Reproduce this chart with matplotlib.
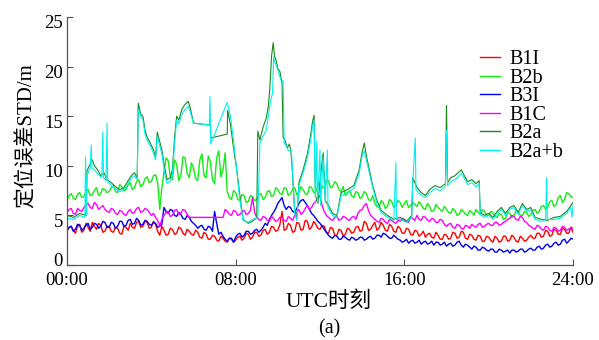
import numpy as np
import matplotlib
matplotlib.use("Agg")
import matplotlib.pyplot as plt
import matplotlib.transforms as mtransforms

# ---------------- data ----------------
# dense series: samples on the even 0.2 h grid plus samples half-way between
t_grid = np.round(np.arange(0, 24.0001, 0.2), 2)
t_mid = np.round(np.arange(0.1, 24.0, 0.2), 2)

b1i = [3.4, 3.9, 3.2, 4.1, 3.5, 3.8, 4.3, 3.6, 4.0, 3.4,
       3.9, 3.3, 3.7, 3.1, 3.8, 4.2, 3.7, 4.4, 3.9, 4.3,
       3.8, 4.1, 3.0, 3.5, 3.1, 3.6, 3.2, 3.7, 3.0, 3.4,
       3.0, 3.3, 2.7, 3.1, 2.6, 2.9, 2.4, 2.7, 2.3, 2.6,
       2.5, 2.9, 2.7, 3.1, 2.8, 3.3, 3.0, 3.6, 3.3, 3.8,
       3.5, 5.4, 3.6, 4.0, 3.4, 4.2, 3.6, 4.4, 3.8, 4.1,
       3.6, 3.9, 3.2, 3.7, 3.0, 3.5, 3.1, 3.6, 3.3, 3.9,
       3.5, 4.2, 3.6, 4.3, 3.7, 4.0, 3.4, 3.9, 3.3, 3.7,
       3.2, 3.6, 3.0, 3.4, 3.1, 2.8, 3.2, 2.7, 3.0, 2.6,
       3.0, 2.7, 3.2, 2.8, 3.3, 2.6, 3.0, 2.5, 2.9, 2.4,
       2.8, 2.3, 2.7, 2.4, 2.9, 2.5, 2.8, 2.3, 2.7, 2.5,
       3.0, 2.7, 3.2, 2.9, 3.4, 3.0, 3.5, 3.1, 3.6, 3.2,
       3.3]
b1i_mid = [3.8, 3.5, 3.9, 3.3, 4.2, 3.4, 3.9, 4.2, 3.3, 3.9,
           3.4, 3.8, 3.2, 3.9, 3.5, 3.8, 4.3, 3.8, 4.4, 3.7,
           4.4, 3.4, 3.9, 3.0, 3.7, 3.1, 3.8, 3.2, 3.6, 3.1,
           3.5, 2.8, 3.3, 2.6, 3.0, 2.5, 2.9, 2.4, 2.7, 2.3,
           2.8, 2.5, 3.2, 2.6, 3.3, 2.9, 3.5, 3.1, 3.9, 3.4,
           4.1, 3.5, 4.2, 3.3, 4.3, 3.5, 4.5, 3.6, 4.4, 3.7,
           4.0, 3.3, 3.8, 3.0, 3.6, 2.9, 3.7, 3.2, 3.8, 3.4,
           4.4, 3.5, 4.0, 3.5, 4.3, 3.5, 4.1, 3.4, 3.9, 3.2,
           3.7, 3.1, 3.5, 2.9, 3.4, 3.1, 2.8, 3.3, 2.6, 3.1,
           2.6, 3.3, 2.7, 3.4, 2.7, 3.1, 2.6, 3.0, 2.4, 2.9,
           2.5, 2.9, 2.3, 2.9, 2.4, 3.0, 2.4, 2.9, 2.4, 2.8,
           2.7, 3.2, 2.8, 3.5, 2.9, 3.6, 3.1, 3.7, 3.2, 3.8]

b3i = [3.5, 3.9, 3.6, 4.0, 3.7, 4.2, 3.8, 4.1, 3.9, 4.3,
       3.8, 4.2, 3.9, 4.4, 4.0, 4.6, 4.2, 4.5, 4.1, 4.4,
       4.0, 4.2, 3.9, 5.8, 5.2, 5.5, 4.9, 5.1, 4.6, 4.8,
       4.2, 3.7, 4.0, 3.5, 3.8, 5.4, 3.1, 2.9, 2.4, 2.7,
       2.8, 3.2, 3.0, 3.4, 3.2, 3.6, 3.5, 4.2, 4.6, 5.3,
       6.2, 6.8, 5.6, 5.8, 5.3, 6.2, 6.6, 6.0, 5.2, 4.7,
       4.2, 3.6, 3.0, 2.7, 2.9, 2.6, 2.8, 2.5, 2.7, 2.6,
       2.8, 2.6, 2.9, 2.7, 3.0, 3.2, 2.9, 2.7, 2.8, 2.5,
       2.4, 2.2, 2.5, 2.3, 2.1, 2.4, 2.2, 2.0, 2.3, 2.1,
       1.9, 2.2, 2.0, 2.4, 1.8, 2.0, 1.6, 1.8, 1.5, 1.7,
       1.4, 1.6, 1.3, 1.5, 1.4, 1.2, 1.5, 1.4, 1.6, 1.4,
       1.7, 1.5, 1.9, 1.7, 2.1, 1.9, 2.3, 2.1, 2.6, 2.4,
       2.6]
b3i_mid = [3.8, 3.4, 4.1, 3.5, 4.0, 3.6, 4.2, 3.7, 4.4, 3.8,
           4.3, 3.7, 4.4, 3.9, 4.5, 4.1, 4.7, 4.0, 4.5, 4.1,
           4.3, 3.8, 4.1, 5.4, 5.6, 5.0, 5.3, 4.7, 5.0, 4.4,
           4.0, 3.9, 3.6, 3.9, 3.4, 4.2, 3.3, 2.6, 2.7, 2.3,
           3.1, 2.8, 3.4, 3.1, 3.5, 3.3, 3.8, 4.0, 5.0, 5.7,
           6.5, 6.0, 5.9, 5.4, 5.7, 6.5, 6.3, 5.6, 5.0, 4.4,
           3.9, 3.3, 2.8, 3.0, 2.6, 2.9, 2.6, 2.8, 2.5, 2.8,
           2.5, 2.8, 2.6, 3.0, 2.8, 3.1, 2.7, 3.0, 2.6, 2.3,
           2.6, 2.4, 2.2, 2.5, 2.3, 2.1, 2.4, 2.3, 2.0, 2.3,
           2.1, 1.9, 2.3, 2.0, 2.1, 1.8, 1.9, 1.5, 1.8, 1.5,
           1.6, 1.3, 1.6, 1.3, 1.5, 1.5, 1.3, 1.6, 1.3, 1.6,
           1.5, 1.8, 1.6, 2.0, 1.8, 2.2, 2.0, 2.5, 2.2, 2.7]

b1c = [5.3, 5.7, 5.1, 5.5, 5.8, 6.2, 5.7, 6.1, 5.8, 5.6,
       5.3, 5.6, 5.1, 5.4, 5.0, 5.6, 5.3, 5.8, 5.4, 5.6,
       5.0, 4.8, 3.9, 5.0, 5.4, 5.0, 5.6, 5.2, 5.5, 4.8,
       4.8, 4.8, 4.8, 4.8, 4.8, 4.8, 4.8, 4.8, 5.4, 5.0,
       5.4, 5.1, 5.5, 5.2, 6.8, 4.8, 4.5, 4.8, 4.4, 4.7,
       4.5, 4.8, 4.4, 4.7, 5.0, 5.6, 5.3, 6.0, 5.8, 6.4,
       7.0, 5.4, 4.8, 4.5, 4.9, 4.6, 4.8, 4.5, 4.9, 5.2,
       5.6, 6.2, 5.0, 4.6, 4.3, 4.6, 4.2, 4.5, 4.2, 4.4,
       4.6, 4.3, 4.7, 5.0, 4.5, 4.8, 4.4, 4.6, 4.3, 4.5,
       3.9, 4.2, 3.7, 4.0, 3.6, 3.9, 4.1, 3.8, 4.2, 3.9,
       4.2, 4.0, 4.3, 4.1, 4.4, 4.7, 4.9, 4.5, 4.8, 4.3,
       3.9, 3.6, 3.9, 3.5, 3.8, 3.4, 3.7, 3.5, 3.8, 3.6,
       3.7]
b1c_mid = [5.6, 5.2, 5.7, 5.4, 6.1, 5.8, 6.3, 5.6, 6.0, 5.4,
           5.7, 5.2, 5.5, 5.1, 5.4, 5.2, 5.7, 5.3, 5.7, 5.3,
           5.2, 4.5, 4.6, 5.3, 4.9, 5.5, 5.1, 5.6, 5.1, 4.8,
           4.8, 4.8, 4.8, 4.8, 4.8, 4.8, 4.8, 5.6, 5.1, 5.5,
           5.0, 5.4, 5.1, 5.5, 5.3, 4.6, 4.9, 4.5, 4.9, 4.4,
           4.8, 4.5, 4.9, 4.5, 5.3, 5.1, 5.7, 5.6, 6.2, 6.7,
           6.0, 5.0, 4.6, 4.8, 4.5, 4.9, 4.6, 4.8, 4.6, 5.5,
           6.0, 5.5, 4.8, 4.4, 4.7, 4.3, 4.6, 4.3, 4.5, 4.7,
           4.4, 4.8, 4.5, 4.6, 4.9, 4.5, 4.7, 4.3, 4.6, 4.1,
           4.1, 3.8, 4.1, 3.7, 4.0, 3.7, 3.9, 4.1, 3.8, 4.1,
           4.0, 4.3, 4.0, 4.3, 4.6, 5.0, 4.6, 4.9, 4.4, 4.0,
           3.7, 4.0, 3.6, 3.9, 3.5, 3.8, 3.4, 3.9, 3.5, 3.8]

b2b = [6.5, 7.2, 6.6, 7.3, 6.9, 7.6, 7.1, 7.8, 7.2, 7.6,
       7.4, 8.0, 7.3, 7.9, 7.6, 8.3, 7.8, 8.6, 8.1, 8.9,
       8.4, 9.1, 5.6, 9.4, 10.5, 8.6, 10.2, 9.0, 10.8, 8.8,
       9.8, 8.5, 11.2, 8.8, 10.4, 8.2, 11.5, 9.6, 7.4, 6.6,
       7.3, 6.5, 7.0, 6.4, 6.9, 6.6, 7.2, 6.8, 7.5, 7.0,
       7.6, 7.1, 7.7, 7.2, 7.8, 7.3, 7.6, 7.1, 7.8, 7.4,
       8.3, 7.7, 8.5, 7.9, 8.2, 7.4, 7.0, 7.5, 6.8, 7.3,
       6.9, 7.2, 6.5, 6.2, 5.8, 6.3, 5.9, 6.4, 6.0, 6.3,
       6.2, 5.8, 6.3, 5.9, 6.1, 5.6, 5.9, 5.5, 5.8, 5.4,
       5.6, 5.2, 5.5, 5.1, 5.4, 5.0, 5.3, 5.6, 5.1, 5.4,
       5.0, 5.3, 4.8, 5.1, 4.7, 5.2, 4.9, 5.4, 5.0, 5.3,
       5.1, 5.6, 5.4, 6.0, 5.8, 6.5, 6.1, 7.0, 6.6, 7.2,
       6.8]
b2b_mid = [7.0, 6.7, 7.1, 6.8, 7.4, 7.0, 7.5, 7.0, 7.7, 7.3,
           7.8, 7.4, 8.1, 7.5, 8.1, 7.6, 8.4, 7.9, 8.7, 8.3,
           9.0, 8.3, 7.8, 10.8, 8.9, 10.6, 8.5, 10.9, 9.2, 10.3,
           8.7, 10.6, 9.0, 11.0, 8.6, 10.8, 8.9, 11.3, 6.8, 7.5,
           6.6, 7.1, 6.3, 7.0, 6.5, 7.1, 6.6, 7.4, 6.9, 7.8,
           7.2, 7.8, 7.0, 7.6, 7.1, 7.9, 7.2, 7.9, 7.3, 8.0,
           7.9, 8.6, 7.8, 8.4, 7.6, 7.9, 7.2, 7.0, 7.4, 6.7,
           7.4, 6.6, 7.0, 5.9, 6.5, 5.7, 6.6, 5.8, 6.5, 5.8,
           6.5, 6.0, 6.1, 6.4, 5.7, 6.2, 5.4, 6.1, 5.6, 5.9,
           5.3, 5.7, 5.0, 5.6, 5.1, 5.5, 5.0, 5.3, 5.6, 5.0,
           5.4, 4.9, 5.2, 4.6, 5.3, 4.8, 5.5, 5.0, 5.4, 4.9,
           5.5, 5.2, 5.9, 5.6, 6.4, 5.9, 6.8, 6.3, 7.3, 6.9]

# B2a: irregular samples (data gaps are bridged by straight segments)
b2a_t = [0, 0.3, 0.6, 0.9, 0.95, 1.1, 1.2, 1.3, 1.45, 1.6, 1.75, 1.9, 2.1, 2.3,
         2.5, 2.7, 2.9, 3.05, 3.2, 3.33, 3.38, 3.5, 3.6, 3.7, 3.8, 3.95, 4.1,
         4.2, 4.28, 4.4, 4.5, 4.6, 4.65, 4.75, 4.9, 5.0, 5.1, 5.2, 5.3, 5.45,
         5.6, 5.75, 5.85, 6.0, 6.8, 6.82, 7.6, 7.62, 7.75, 7.9, 8.05, 8.2, 8.35,
         8.6, 8.8, 9.0, 9.05, 9.15, 9.3, 9.45, 9.55, 9.62, 9.7, 9.78, 9.85, 9.92,
         10.0, 10.1, 10.2, 10.25, 10.35, 10.45, 10.55, 10.62, 10.7, 10.8, 10.9,
         11.0, 11.2, 11.4, 11.55, 11.65, 11.72, 11.78, 11.9, 12.05, 12.15, 12.25,
         12.4, 12.6, 12.8, 13.0, 13.3, 13.6, 13.85, 14.0, 14.1, 14.2, 14.35,
         14.5, 14.7, 14.9, 15.2, 15.5, 15.8, 16.1, 16.35, 16.4, 16.6, 16.8,
         17.0, 17.2, 17.45, 17.7, 17.95, 18.0, 18.05, 18.2, 18.4, 18.6, 18.7,
         18.85, 19.0, 19.2, 19.4, 19.55, 19.6, 19.8, 20.0, 20.2, 20.4, 20.6,
         20.8, 21.0, 21.2, 21.4, 21.6, 21.8, 22.0, 22.2, 22.5, 22.8, 23.1,
         23.4, 23.7, 24.0]
b2a_v = [5.0, 4.8, 5.2, 5.0, 9.5, 10.2, 10.6, 10.0, 9.6, 9.0, 9.3, 8.6, 8.3, 7.9,
         7.6, 7.8, 8.5, 9.0, 9.3, 8.8, 16.3, 15.2, 15.0, 13.6, 12.9, 12.3, 11.6,
         10.9, 13.4, 12.4, 11.6, 10.2, 9.6, 8.6, 8.8, 9.6, 12.8, 15.0, 14.6, 15.7,
         16.2, 16.5, 15.8, 14.3, 14.1, 12.8, 13.2, 15.6, 14.2, 11.8, 9.6, 7.0, 4.6,
         4.2, 4.4, 4.8, 13.5, 12.6, 13.9, 14.8, 16.0, 17.8, 21.0, 22.4, 21.0, 20.6,
         19.8, 19.5, 18.3, 12.9, 12.5, 11.8, 12.2, 11.5, 9.0, 5.5, 4.6,
         8.3, 9.6, 11.2, 13.0, 14.5, 15.1, 7.0, 6.2, 9.5, 11.3, 6.5,
         6.0, 5.2, 5.0, 7.3, 7.6, 8.0, 9.5, 11.4, 12.3, 11.0, 9.5,
         8.0, 6.5, 5.5, 5.0, 4.6, 4.8, 4.4, 5.0, 8.8, 7.8, 7.3,
         7.0, 7.6, 8.0, 7.8, 8.2, 16.1, 8.3, 8.8, 9.0, 9.4, 9.6,
         9.0, 8.4, 8.6, 8.2, 8.5, 5.3, 5.0, 5.2, 4.8, 5.4, 5.8,
         5.2, 5.8, 6.0, 5.3, 6.2, 5.6, 5.8, 4.8, 4.6, 4.5, 4.8,
         4.9, 5.4, 6.3]

# B2a+b: irregular samples
b2ab_t = [0, 0.3, 0.6, 0.85, 0.88, 0.92, 0.95, 1.1, 1.15, 1.18, 1.3, 1.45, 1.65,
          1.7, 1.73, 1.85, 1.9, 1.93, 2.1, 2.3, 2.5, 2.7, 2.9, 3.05, 3.2, 3.33,
          3.38, 3.5, 3.6, 3.7, 3.8, 3.95, 4.1, 4.2, 4.28, 4.4, 4.5, 4.6, 4.65,
          4.75, 4.9, 5.0, 5.1, 5.2, 5.3, 5.45, 5.6, 5.75, 5.85, 6.0, 6.75, 6.78,
          6.82, 7.6, 7.75, 7.9, 8.05, 8.2, 8.35, 8.6, 8.8, 9.05, 9.15, 9.3, 9.45,
          9.55, 9.65, 9.75, 9.8, 9.85, 9.95, 10.05, 10.15, 10.25, 10.3, 10.4,
          10.5, 10.6, 10.65, 10.72, 10.8, 10.9, 11.0, 11.2, 11.4, 11.55, 11.65,
          11.72, 11.78, 11.85, 11.88, 12.0, 12.03, 12.15, 12.25, 12.35, 12.38,
          12.6, 12.8, 13.0, 13.3, 13.6, 13.85, 14.0, 14.1, 14.2, 14.35, 14.5,
          14.7, 14.9, 15.2, 15.5, 15.6, 15.63, 15.8, 16.1, 16.35, 16.4, 16.52,
          16.55, 16.8, 17.0, 17.2, 17.45, 17.7, 17.95, 18.0, 18.05, 18.2, 18.4,
          18.6, 18.7, 18.85, 19.0, 19.2, 19.4, 19.55, 19.6, 19.8, 20.0, 20.2,
          20.4, 20.6, 20.8, 21.0, 21.2, 21.4, 21.6, 21.8, 22.0, 22.2, 22.5,
          22.7, 22.75, 22.78, 23.1, 23.4, 23.7, 23.9, 23.95, 24.0]
b2ab_v = [4.7, 4.6, 5.0, 4.8, 10.9, 5.0, 9.0, 9.8, 12.1, 9.8, 9.6, 9.2, 8.8,
          13.4, 8.8, 8.5, 14.3, 8.4, 8.0, 7.7, 7.4, 7.6, 8.2, 8.8, 9.0, 8.6,
          15.7, 15.0, 14.6, 13.2, 12.6, 12.0, 11.3, 10.6, 13.0, 12.0, 11.2, 9.8, 9.0,
          8.2, 8.5, 9.0, 12.2, 14.6, 14.2, 15.2, 15.7, 16.0, 15.4, 14.3, 14.1, 17.0,
          12.2, 16.4, 15.0, 12.5, 9.6, 6.5, 4.5, 4.3, 4.6, 4.8, 12.3, 13.0, 13.6,
          15.0, 16.5, 17.3, 21.0, 20.5, 20.0, 19.3, 18.6, 18.6, 12.3, 12.0,
          11.5, 11.6, 11.3, 8.5, 5.2, 4.5, 8.0, 9.3, 10.8, 12.5, 14.0,
          14.6, 6.8, 12.5, 6.2, 11.6, 6.0, 10.8, 6.3, 11.6, 5.8,
          5.0, 4.8, 7.0, 7.3, 7.7, 9.2, 11.0, 11.5, 10.6, 9.2, 7.8,
          6.2, 5.3, 4.8, 4.5, 10.3, 4.6, 4.6, 4.3, 4.8, 8.3, 12.8,
          7.6, 7.0, 6.8, 7.3, 7.7, 7.5, 7.9, 13.6, 8.0, 8.4, 8.6,
          9.0, 9.2, 8.7, 8.1, 8.3, 7.9, 8.2, 5.1, 4.8, 5.0, 4.6,
          5.2, 5.6, 5.0, 5.6, 5.8, 5.1, 6.0, 5.4, 5.6, 4.6, 4.4,
          4.5, 8.8, 4.6, 4.6, 4.7, 5.2, 5.8, 4.8, 6.0]

series_names = ["B1I", "B2b", "B3I", "B1C", "B2a", "B2a+b"]
x_ticks = [0, 8, 16, 24]
x_ticklabels = ["00:00", "08:00", "16:00", "24:00"]
y_ticks = [0, 5, 10, 15, 20, 25]


def merge(t_a, v_a, t_b, v_b):
    t = np.concatenate([t_a, t_b])
    v = np.concatenate([v_a, v_b])
    o = np.argsort(t, kind="stable")
    return t[o], v[o]


# ---------------- figure ----------------
plt.rcParams["font.family"] = ["Liberation Serif", "Noto Sans CJK SC"]

W, H = 599, 340
fig = plt.figure(figsize=(W / 100, H / 100), dpi=100)
ax = fig.add_axes([67 / W, 1 - 265 / H, 506 / W, 248 / H])

colors = {"B1I": "#ff0000", "B2b": "#11ee11", "B3I": "#0000ee",
          "B1C": "#ff00ff", "B2a": "#1a881a", "B2a+b": "#00f0f0"}
lw_noisy = 1.0
lw = 0.8
ax.plot(*merge(t_grid, b1i, t_mid, b1i_mid), color=colors["B1I"], lw=lw_noisy, label="B1I")
ax.plot(*merge(t_grid, b2b, t_mid, b2b_mid), color=colors["B2b"], lw=lw_noisy, label="B2b")
ax.plot(*merge(t_grid, b3i, t_mid, b3i_mid), color=colors["B3I"], lw=lw_noisy, label="B3I")
ax.plot(*merge(t_grid, b1c, t_mid, b1c_mid), color=colors["B1C"], lw=lw_noisy, label="B1C")
ax.plot(b2a_t, b2a_v, color=colors["B2a"], lw=lw, label="B2a")
ax.plot(b2ab_t, b2ab_v, color=colors["B2a+b"], lw=lw, label="B2a+b")

ax.set_xlim(0, 24)
ax.set_ylim(0, 25)
ax.set_xticks(x_ticks)
ax.set_xticklabels(x_ticklabels)
ax.set_yticks(y_ticks)
for s in ["top", "right"]:
    ax.spines[s].set_visible(False)
for s in ["left", "bottom"]:
    ax.spines[s].set_color("#555555")
    ax.spines[s].set_linewidth(0.9)
ax.tick_params(direction="in", colors="#555555", labelcolor="black",
               labelsize=13.5, length=4, width=0.8)
ax.tick_params(axis="x", pad=5)
ax.tick_params(axis="y", pad=3)

# y tick labels sit slightly below their ticks in the reference; "0" sits above
for val, lab in zip(y_ticks, ax.get_yticklabels()):
    dy = 5 if val == 0 else -5
    lab.set_transform(lab.get_transform() +
                      mtransforms.ScaledTranslation(0, dy / 100, fig.dpi_scale_trans))

fig.text(27 / W, 1 - 136 / H, "定位误差STD/m", rotation=90, ha="center",
         va="center", fontsize=15)
fig.text(329 / W, 1 - 302 / H, "UTC时刻", ha="center", va="center", fontsize=15.5)
fig.text(329 / W, 1 - 329 / H, "(a)", ha="center", va="center", fontsize=14.5)

leg = ax.legend(loc="upper left", bbox_to_anchor=((480 - 67) / 506, (265 - 50) / 248),
                frameon=False, fontsize=14.5, handlelength=1.0, handletextpad=0.45,
                labelspacing=-0.03, borderpad=0, borderaxespad=0)
for line in leg.get_lines():
    line.set_linewidth(1.0)

fig.savefig("out.png", dpi=100)
